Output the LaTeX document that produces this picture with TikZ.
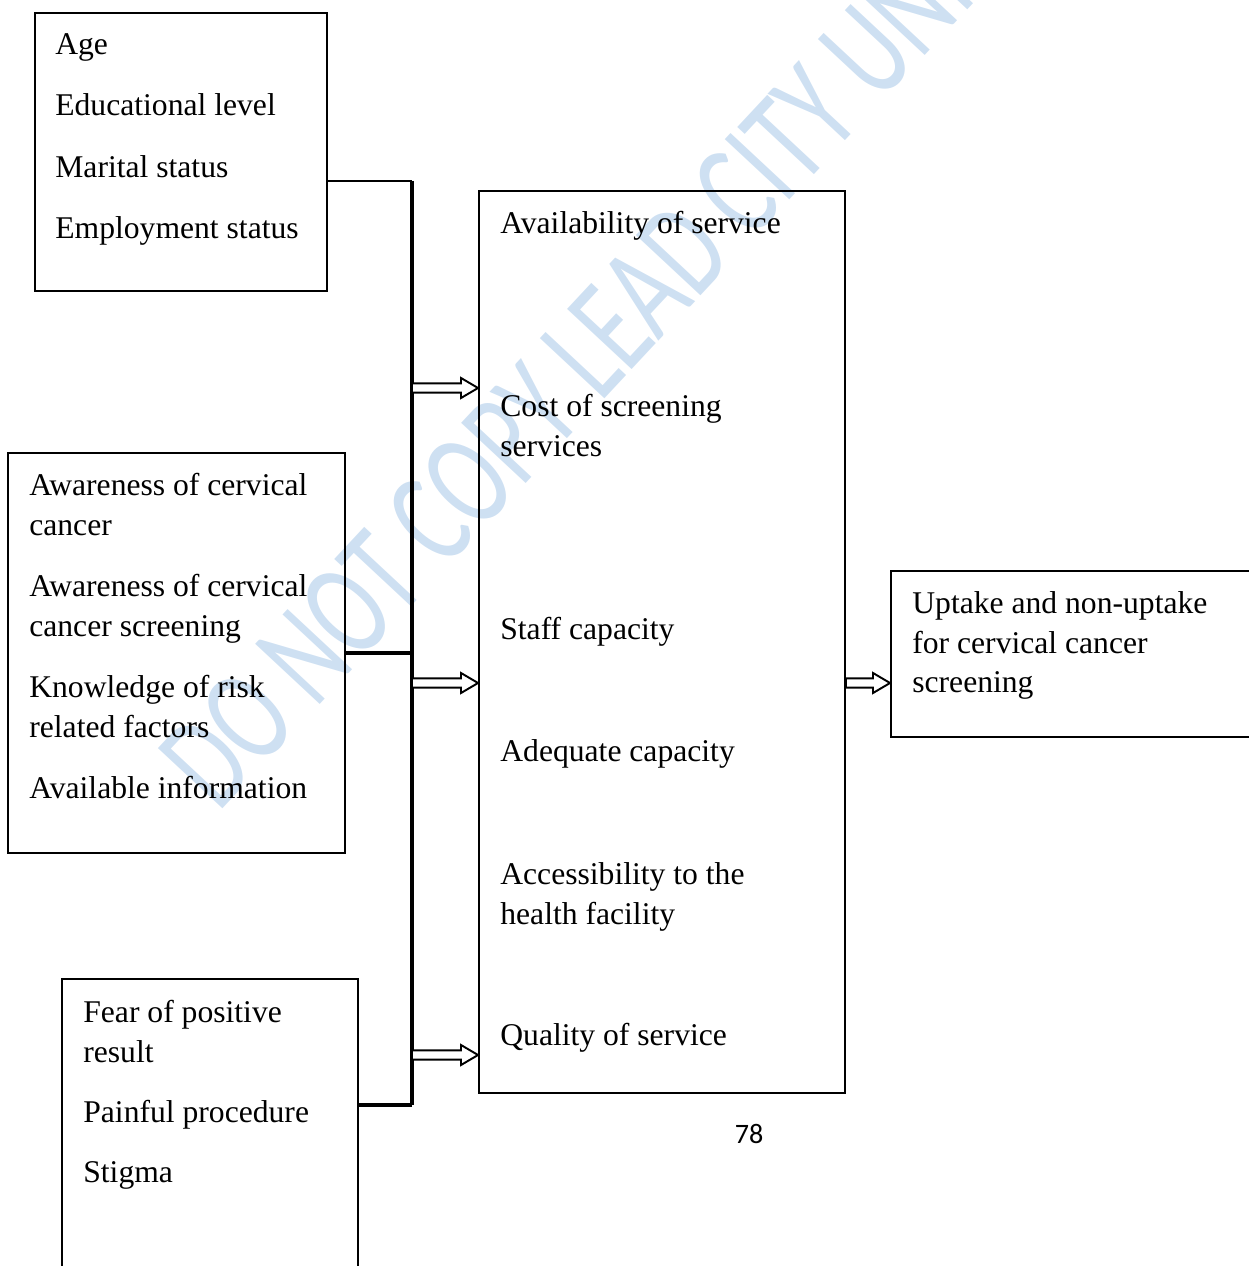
\documentclass[tikz,border=0pt]{standalone}
\usepackage{fontspec}
\setmainfont{Liberation Serif}
\newfontfamily\wmfont{Carlito}
\usetikzlibrary{calc}
\definecolor{wmblue}{RGB}{206,224,242}
\tikzset{
  box/.style={draw,line width=1.1pt,inner sep=0pt},
  item/.style={anchor=north west,align=left,inner sep=0pt,font=\fontsize{18}{22.6}\selectfont},
  link/.style={line width=1.9pt},
  hollow/.style={line width=1.1pt,fill=white,to path={let \p1=(\tikztostart),\p2=(\tikztotarget) in
    (\x1,\y1+2.6pt) -- (\x2-9.7pt,\y1+2.6pt) -- (\x2-9.7pt,\y1+5.7pt) -- (\x2,\y1) -- (\x2-9.7pt,\y1-5.7pt) -- (\x2-9.7pt,\y1-2.6pt) -- (\x1,\y1-2.6pt) -- cycle}},
  wm/.style={text=wmblue,inner sep=0pt,font=\wmfont\fontsize{54}{54}\selectfont}
}
\begin{document}
\begin{tikzpicture}[x=0.02cm,y=-0.02cm,line join=miter]
\useasboundingbox (0,0) rectangle (1248,1266);
\def\sx{412}
\node[wm,rotate=47,yscale=1.45] (wmark) at (672,262) {DO NOT COPY LEAD CITY UNIVERSITY};

\node[box,minimum width=292*0.02cm,minimum height=278*0.02cm] (demo) at (181,152) {};
\node[box,minimum width=337*0.02cm,minimum height=400*0.02cm] (aware) at (176.5,653) {};
\node[box,minimum width=296*0.02cm,minimum height=340*0.02cm] (fear) at (210,1149) {};
\node[box,minimum width=366*0.02cm,minimum height=902*0.02cm] (mid) at (662,642) {};
\node[box,minimum width=380*0.02cm,minimum height=166*0.02cm] (goal) at (1081,654) {};

\node[item] (age) at (55,33) {Age};
\node[item] (edu) at (55,93) {Educational level};
\node[item] (mar) at (55,155) {Marital status};
\node[item] (emp) at (55,216) {Employment status};

\node[item] (awc) at (29,473) {Awareness of cervical\\cancer};
\node[item] (aws) at (29,574) {Awareness of cervical\\cancer screening};
\node[item] (know) at (29,675) {Knowledge of risk\\related factors};
\node[item] (info) at (29,776) {Available information};

\node[item] (pos) at (83,1000) {Fear of positive\\result};
\node[item] (pain) at (83,1100) {Painful procedure};
\node[item] (stig) at (83,1161) {Stigma};

\node[item] (avail) at (500,211) {Availability of service};
\node[item] (cost) at (500,394) {Cost of screening\\services};
\node[item] (staff) at (500,617) {Staff capacity};
\node[item] (adeq) at (500,739) {Adequate capacity};
\node[item] (acc) at (500,862) {Accessibility to the\\health facility};
\node[item] (qual) at (500,1023) {Quality of service};

\node[item] (uptake) at (912,591) {Uptake and non-uptake\\for cervical cancer\\screening};

\node[inner sep=0pt,font=\fontspec{Carlito}\fontsize{16}{16}\selectfont] (page) at (749,1134) {78};

\coordinate (top) at (\sx,181);
\coordinate (bot) at (\sx,1105);
\coordinate (a1) at (\sx,388);
\coordinate (a2) at (\sx,683);
\coordinate (a3) at (\sx,1055);
\draw[line width=1.1pt] (demo.east |- top) -- (top);
\draw[link] (aware.east) -- (aware.east -| top);
\draw[link] (fear.east |- bot) -- (bot);
\draw[link] (top) -- (bot);
\draw[hollow] (a1) to (a1 -| mid.west);
\draw[hollow] (a2) to (a2 -| mid.west);
\draw[hollow] (a3) to (a3 -| mid.west);
\draw[hollow] (mid.east |- a2) to (goal.west |- a2);
\end{tikzpicture}
\end{document}
